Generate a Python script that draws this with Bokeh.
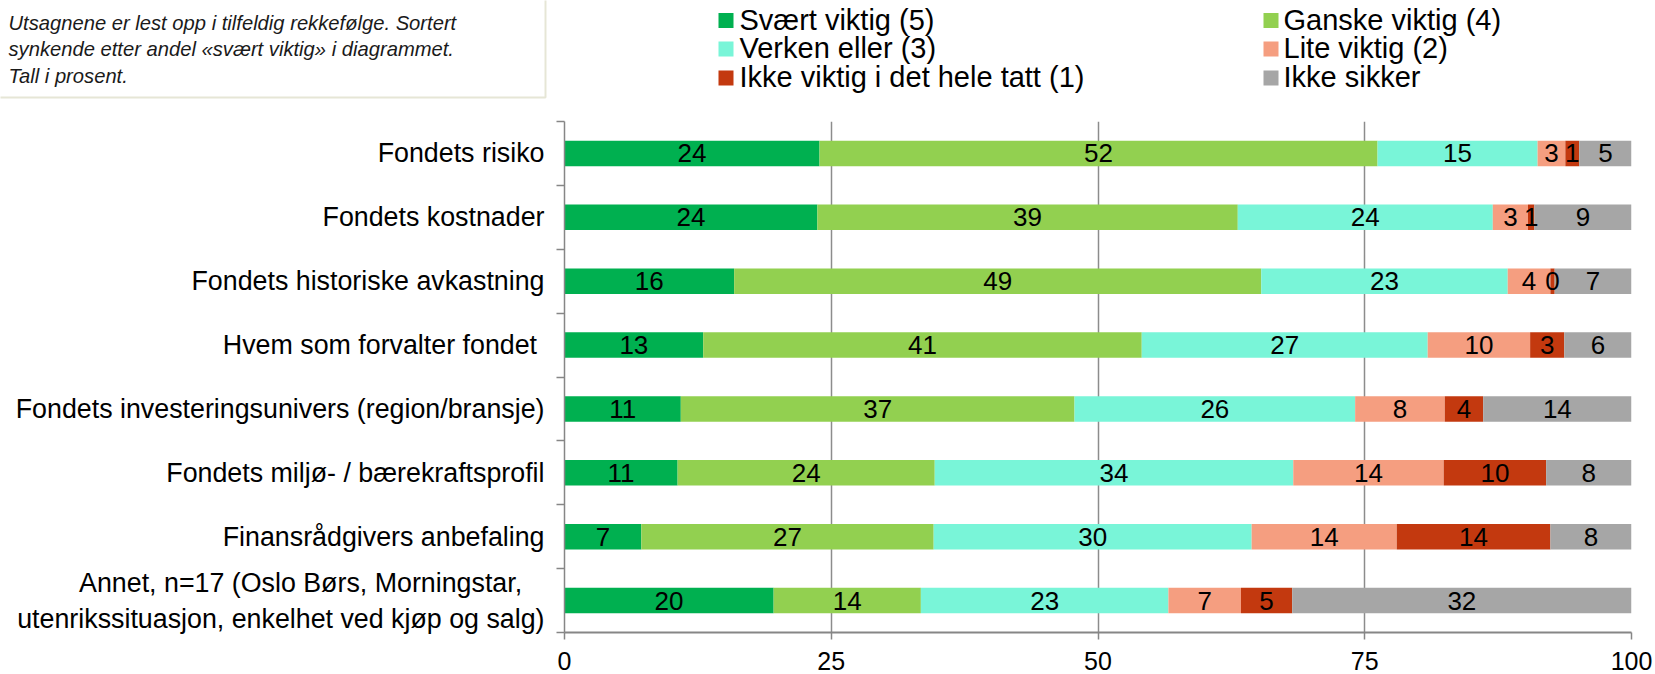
from bokeh.plotting import figure
from bokeh.models import Range1d, FixedTicker, ColumnDataSource
from bokeh.layouts import column
from bokeh.embed import file_html
from bokeh.resources import INLINE
from bokeh.core.properties import value

# ---------------- data ----------------
NB = "\u00a0"
categories = [
    "Fondets risiko",
    "Fondets kostnader",
    "Fondets historiske avkastning",
    "Hvem som forvalter fondet" + NB,
    "Fondets investeringsunivers (region/bransje)",
    "Fondets miljø- / bærekraftsprofil",
    "Finansrådgivers anbefaling",
    "Annet, n=17 (Oslo Børs, Morningstar," + NB * 3 + "\nutenrikssituasjon, enkelhet ved kjøp og salg)",
]
series_names = [
    "Svært viktig (5)",
    "Ganske viktig (4)",
    "Verken eller (3)",
    "Lite viktig (2)",
    "Ikke viktig i det hele tatt (1)",
    "Ikke sikker",
]
svaert_viktig = [23.9, 23.7, 15.9, 13.0, 10.9, 10.6, 7.2, 19.6]
ganske_viktig = [52.3, 39.4, 49.4, 41.1, 36.9, 24.1, 27.4, 13.8]
verken_eller = [15.0, 23.9, 23.1, 26.8, 26.3, 33.6, 29.8, 23.2]
lite_viktig = [2.6, 3.3, 4.0, 9.6, 8.4, 14.1, 13.6, 6.8]
ikke_viktig = [1.3, 0.6, 0.4, 3.2, 3.6, 9.6, 14.4, 4.8]
ikke_sikker = [4.9, 9.1, 7.2, 6.3, 13.9, 8.0, 7.6, 31.8]
x_ticks = [0, 25, 50, 75, 100]
note_lines = [
    "Utsagnene er lest opp i tilfeldig rekkefølge. Sortert",
    "synkende etter andel «svært viktig» i diagrammet.",
    "Tall i prosent.",
]

series_values = [svaert_viktig, ganske_viktig, verken_eller, lite_viktig, ikke_viktig, ikke_sikker]
colors = ["#00B050", "#92D050", "#79F5D8", "#F59E80", "#C3390F", "#A6A6A6"]

FONT = "Liberation Sans"
W, H = 1655, 674
H1 = 105                                # header canvas height
L, R, T, B = 564, 1631, 121, 632        # frame edges in page pixels

# ---------------- header: note box + legend ----------------
hdr = figure(width=W, height=H1, output_backend="svg", toolbar_location=None,
             x_range=Range1d(0, W), y_range=Range1d(H1, 0),
             min_border=0, x_axis_location=None, y_axis_location=None)
hdr.outline_line_color = None
hdr.grid.visible = False
hdr.frame_align = False

hdr.quad(left=[-3], right=[545], top=[-3], bottom=[97],
         fill_color="white", line_color="#E6E6D6", line_width=2)
hdr.text(x=[8] * len(note_lines), y=[22, 48.5, 75], text=note_lines,
         text_font=value(FONT), text_font_style="italic", text_font_size="20.2px",
         text_color="#1a1a1a", text_baseline="middle", text_align="left")

leg_sq_x = [718, 1263]
leg_txt_x = [739, 1283]
leg_row_y = [20, 48.5, 77.5]
SQ = 15
for i, (name, col) in enumerate(zip(series_names, colors)):
    c, r = i % 2, i // 2
    cy = leg_row_y[r]
    hdr.rect(x=[leg_sq_x[c] + SQ / 2], y=[cy], width=SQ, height=SQ,
             fill_color=col, line_color=None)
    hdr.text(x=[leg_txt_x[c]], y=[cy - 1], text=[name], text_font=value(FONT),
             text_font_size="29px", text_color="black",
             text_baseline="middle", text_align="left")

# ---------------- main chart ----------------
n = len(categories)
ycent = [n - i - 0.5 for i in range(n)]

p = figure(width=W, height=H - H1, output_backend="svg", toolbar_location=None,
           x_range=Range1d(0, 100), y_range=Range1d(0, n),
           min_border_left=L, min_border_right=W - R,
           min_border_top=T - H1, min_border_bottom=H - B)
p.outline_line_color = None
p.frame_align = False

left = [0.0] * n
label_sources = []
for name, vals, col in zip(series_names, series_values, colors):
    right = [l + v for l, v in zip(left, vals)]
    mid = [(l + r) / 2 for l, r in zip(left, right)]
    labels = [str(int(v + 0.5)) for v in vals]
    src = ColumnDataSource(dict(y=ycent, left=left, right=right, mid=mid, lab=labels))
    p.hbar(y="y", left="left", right="right", height=0.4, source=src,
           fill_color=col, line_color=None)
    label_sources.append(src)
    left = right

# value labels drawn after all bars so none is hidden
for src in label_sources:
    p.text(x="mid", y="y", text="lab", source=src, text_font=value(FONT), text_font_size="26px",
           text_color="black", text_align="center", text_baseline="middle")

# x axis
p.xaxis.ticker = FixedTicker(ticks=x_ticks)
p.xaxis.axis_line_color = "#868686"
p.xaxis.axis_line_width = 2
p.xaxis.major_tick_line_color = "#868686"
p.xaxis.major_tick_line_width = 1.5
p.xaxis.major_tick_out = 7
p.xaxis.major_tick_in = 0
p.xaxis.minor_tick_line_color = None
p.xaxis.major_label_standoff = 12
p.xaxis.major_label_text_font = FONT
p.xaxis.major_label_text_font_size = "25px"
p.xaxis.major_label_text_color = "black"

p.xgrid.ticker = FixedTicker(ticks=x_ticks)
p.xgrid.grid_line_color = "#8c8c8c"
p.xgrid.grid_line_width = 1.5
p.ygrid.visible = False

# y axis: labels at centres, tick marks at category boundaries
p.yaxis.ticker = FixedTicker(ticks=ycent, minor_ticks=list(range(n + 1)))
p.yaxis.major_label_overrides = {y: c for y, c in zip(ycent, categories)}
p.yaxis.axis_line_color = "#868686"
p.yaxis.axis_line_width = 1.5
p.yaxis.major_tick_out = 0
p.yaxis.major_tick_in = 0
p.yaxis.minor_tick_out = 8
p.yaxis.minor_tick_in = 0
p.yaxis.minor_tick_line_color = "#868686"
p.yaxis.minor_tick_line_width = 1.5
p.yaxis.major_label_standoff = 12
p.yaxis.major_label_text_font = FONT
p.yaxis.major_label_text_font_size = "26.8px"
p.yaxis.major_label_text_color = "black"

layout = column(hdr, p, spacing=0)
open("out.html", "w").write(file_html(layout, INLINE))
